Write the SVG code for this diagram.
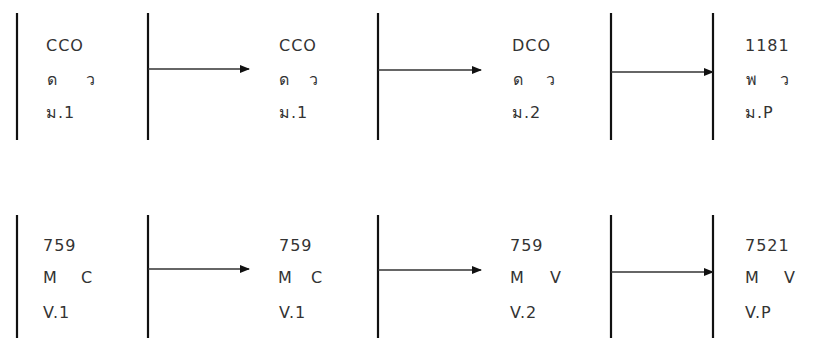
<svg xmlns="http://www.w3.org/2000/svg" width="839" height="338" viewBox="0 0 839 338">
<defs>
<marker id="ah" markerWidth="10" markerHeight="8" refX="9" refY="4" orient="auto" markerUnits="userSpaceOnUse">
<path d="M0,0 L10,4 L0,8 z" fill="#111"/>
</marker>
<style>
.bar{stroke:#111;stroke-width:2.2;fill:none}
.conn{stroke:#333;stroke-width:1.3;fill:none}
.t{font-family:"DejaVu Sans","Noto Sans",sans-serif;font-size:16px;letter-spacing:1px;fill:#333}
</style>
</defs>
<rect width="839" height="338" fill="#fff"/>
<g id="bars">
<line class="bar" x1="17" y1="13" x2="17" y2="140"/>
<line class="bar" x1="148" y1="13" x2="148" y2="140"/>
<line class="bar" x1="378" y1="13" x2="378" y2="140"/>
<line class="bar" x1="611" y1="13" x2="611" y2="140"/>
<line class="bar" x1="713" y1="13" x2="713" y2="140"/>
<line class="bar" x1="17" y1="215" x2="17" y2="338"/>
<line class="bar" x1="148" y1="215" x2="148" y2="338"/>
<line class="bar" x1="378" y1="215" x2="378" y2="338"/>
<line class="bar" x1="611" y1="215" x2="611" y2="338"/>
<line class="bar" x1="713" y1="215" x2="713" y2="338"/>
</g>
<g id="connectors">
<line class="conn" x1="148" y1="69" x2="249" y2="69" marker-end="url(#ah)"/>
<line class="conn" x1="378" y1="70" x2="481" y2="70" marker-end="url(#ah)"/>
<line class="conn" x1="611" y1="72" x2="713" y2="72" marker-end="url(#ah)"/>
<line class="conn" x1="148" y1="269" x2="249" y2="269" marker-end="url(#ah)"/>
<line class="conn" x1="378" y1="270" x2="481" y2="270" marker-end="url(#ah)"/>
<line class="conn" x1="611" y1="272" x2="713" y2="272" marker-end="url(#ah)"/>
</g>
<g id="node-t1">
<text class="t" x="46" y="51">CCO</text>
<text class="t" x="47" y="85">ด</text><text class="t" x="86" y="85">ว</text>
<text class="t" x="46" y="118">ม.1</text>
</g>
<g id="node-t2">
<text class="t" x="279" y="51">CCO</text>
<text class="t" x="279" y="85">ด</text><text class="t" x="309" y="85">ว</text>
<text class="t" x="279" y="118">ม.1</text>
</g>
<g id="node-t3">
<text class="t" x="512" y="51">DCO</text>
<text class="t" x="513" y="85">ด</text><text class="t" x="546" y="85">ว</text>
<text class="t" x="512" y="118">ม.2</text>
</g>
<g id="node-t4">
<text class="t" x="745" y="51">1181</text>
<text class="t" x="746" y="85">พ</text><text class="t" x="780" y="85">ว</text>
<text class="t" x="745" y="118">ม.P</text>
</g>
<g id="node-b1">
<text class="t" x="43" y="251">759</text>
<text class="t" x="43" y="283">M</text><text class="t" x="81" y="283">C</text>
<text class="t" x="43" y="318">V.1</text>
</g>
<g id="node-b2">
<text class="t" x="279" y="251">759</text>
<text class="t" x="278" y="283">M</text><text class="t" x="311" y="283">C</text>
<text class="t" x="279" y="318">V.1</text>
</g>
<g id="node-b3">
<text class="t" x="510" y="251">759</text>
<text class="t" x="510" y="283">M</text><text class="t" x="550" y="283">V</text>
<text class="t" x="510" y="318">V.2</text>
</g>
<g id="node-b4">
<text class="t" x="745" y="251">7521</text>
<text class="t" x="745" y="283">M</text><text class="t" x="784" y="283">V</text>
<text class="t" x="745" y="318">V.P</text>
</g>
</svg>
